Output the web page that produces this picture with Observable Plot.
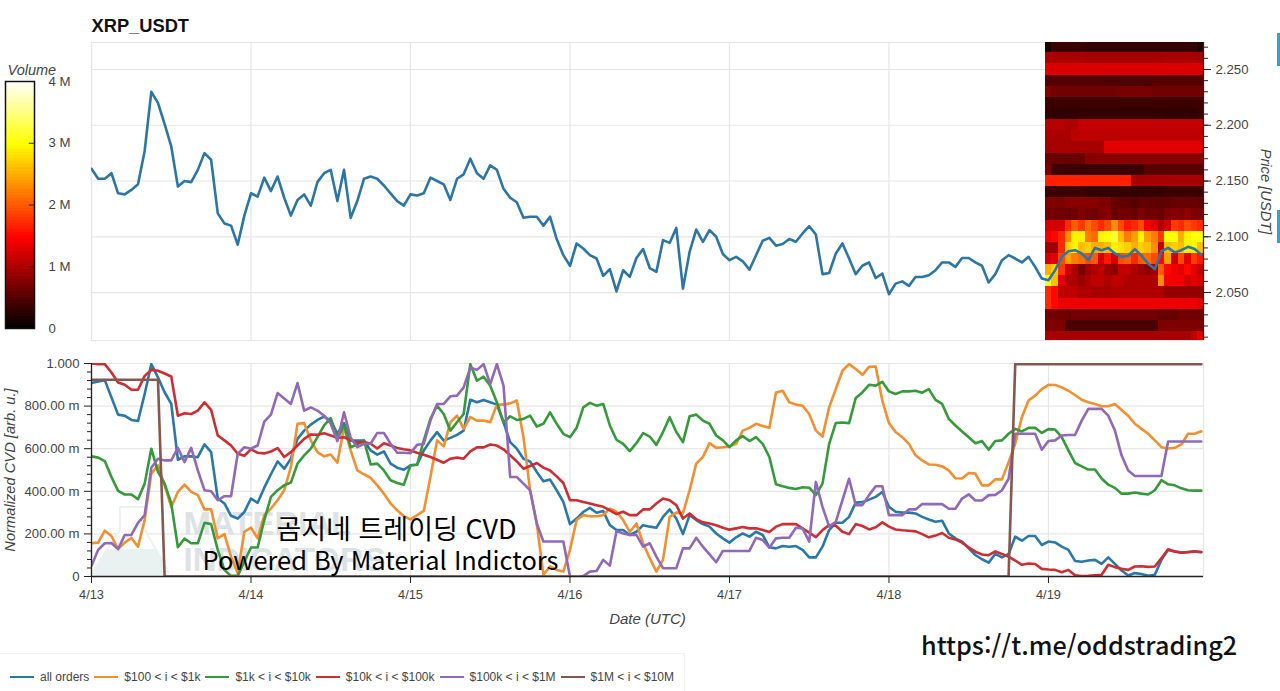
<!DOCTYPE html>
<html lang="ko">
<head>
<meta charset="utf-8">
<script src="https://cdn.jsdelivr.net/npm/d3@7"></script>
<script src="https://cdn.jsdelivr.net/npm/@observablehq/plot@0.6"></script>
<style>
html,body{margin:0;padding:0;background:#fff;width:1280px;height:691px;overflow:hidden}
#page{position:relative;width:1280px;height:691px;font-family:"Liberation Sans",sans-serif}
#page svg{position:absolute;overflow:visible;background:transparent}
#legend{position:absolute;left:0;top:653px;width:685px;height:38px;box-sizing:border-box;border-top:1px solid #f0f0f0;border-right:1px solid #f0f0f0;display:flex;align-items:center;padding-left:10px;padding-top:8px;font-size:12px;color:#444;white-space:nowrap}
#legend i{display:inline-block;width:24px;height:0;border-top:2.5px solid;margin-right:6px}
#legend span{margin-right:5px}
#url{position:absolute;left:921px;top:626px;font:500 25.2px "Noto Sans CJK KR",sans-serif;color:#111;white-space:nowrap}
.edge{position:absolute;left:1277px;width:3px;background:#2fa3d1}
</style>
</head>
<body>
<div id="page"></div>
<script>
const chartTitle = "XRP_USDT";
const dayHours = [0, 24, 48, 72, 96, 120, 144];
const dayLabels = ["4/13", "4/14", "4/15", "4/16", "4/17", "4/18", "4/19"];
const priceTicks = [2.05, 2.10, 2.15, 2.20, 2.25];
const cvdTicks = [0, 200, 400, 600, 800, 1000];
const cvdTickLabels = ["0", "200.00 m", "400.00 m", "600.00 m", "800.00 m", "1.000"];
const volumeTicks = [0, 1, 2, 3, 4];
const volumeLabels = ["0", "1 M", "2 M", "3 M", "4 M"];

// hourly close, from 4/13 00:00 UTC
const price = [
2.161,2.152,2.152,2.157,2.139,2.138,2.142,2.147,2.177,2.230,2.220,2.201,2.181,2.145,2.150,2.149,2.160,2.175,2.169,2.121,2.112,2.110,2.093,2.119,
2.139,2.136,2.153,2.141,2.154,2.135,2.119,2.133,2.138,2.128,2.149,2.157,2.160,2.132,2.160,2.117,2.132,2.152,2.154,2.152,2.146,2.139,2.132,2.128,
2.138,2.137,2.139,2.153,2.150,2.147,2.133,2.152,2.156,2.170,2.157,2.152,2.164,2.160,2.143,2.135,2.131,2.117,2.118,2.118,2.110,2.118,2.098,2.0835,
2.074,2.094,2.0895,2.0835,2.0805,2.065,2.071,2.051,2.070,2.064,2.081,2.089,2.072,2.0685,2.097,2.0945,2.108,2.0535,2.0865,2.1065,2.0955,2.106,2.100,2.0845,
2.079,2.082,2.078,2.0705,2.0835,2.0965,2.099,2.092,2.0935,2.098,2.0955,2.103,2.1095,2.102,2.0665,2.0675,2.085,2.094,2.0805,2.0665,2.074,2.077,2.063,2.067,
2.0485,2.058,2.060,2.056,2.064,2.064,2.0655,2.070,2.077,2.077,2.073,2.081,2.081,2.077,2.074,2.059,2.0665,2.079,2.0835,2.0805,2.077,2.082,2.073,2.0625,
2.061,2.070,2.082,2.087,2.088,2.085,2.079,2.090,2.088,2.090,2.085,2.082,2.083,2.089,2.083,2.076,2.071,2.087,2.090,2.086,2.088,2.091,2.089,2.084];

const seriesNames = ["all orders", "$100 < i < $1k", "$1k < i < $10k", "$10k < i < $100k", "$100k < i < $1M", "$1M < i < $10M"];
const seriesColors = ["#2a78a8", "#f28f30", "#359a39", "#cc2e33", "#9169b8", "#85584f"];

const allOrders = [
908,916,922,841,760,755,735,730,857,997,935,865,810,548,564,564,560,620,584,366,343,285,272,303,
366,346,417,480,540,506,553,646,685,713,735,751,732,670,720,638,638,638,592,572,587,530,511,501,
522,525,592,638,678,638,651,665,685,830,818,829,818,807,724,631,600,553,540,491,447,455,405,350,
246,272,303,322,299,307,241,218,218,195,210,241,234,229,280,315,272,199,288,265,246,234,202,179,
159,184,202,187,210,195,137,132,143,140,143,125,90,90,140,218,252,252,280,347,349,361,374,397,
327,304,300,300,296,280,268,257,262,202,179,164,132,101,81,65,106,90,106,187,168,190,190,148,
164,160,140,125,73,69,75,78,59,90,59,28,5,16,12,3,8,78,125,117,112,115,118,114];
const from100 = [
156,159,215,190,129,159,181,140,265,483,522,428,327,397,431,397,382,315,315,179,199,93,16,210,
229,179,288,319,358,405,514,717,720,639,584,564,573,534,701,592,498,480,463,428,389,343,311,283,
268,288,308,467,639,611,724,755,693,748,732,732,724,807,807,813,826,654,405,249,8,47,31,23,
125,265,288,283,283,288,319,304,265,210,249,156,86,23,78,280,300,296,405,530,561,626,604,607,
611,623,685,698,717,707,698,864,872,818,807,802,763,685,657,794,880,966,997,974,947,984,986,826,
720,678,654,623,569,545,526,525,517,498,461,460,486,483,428,428,456,456,537,623,748,826,849,880,
900,899,888,872,852,830,818,810,799,799,810,782,755,717,693,670,639,607,601,604,620,670,670,682];
const from1k = [
564,558,542,467,402,385,385,363,436,600,491,436,343,137,178,156,156,252,246,125,31,3,3,70,
136,136,265,374,405,428,441,530,569,600,654,709,743,646,709,607,620,639,526,530,498,452,439,431,
522,525,639,740,802,763,685,724,763,997,919,938,896,818,724,752,735,740,755,704,717,771,717,670,
654,698,794,815,802,810,709,642,623,589,626,673,657,618,678,748,678,631,752,760,732,717,662,639,
607,639,659,636,654,623,561,433,424,416,411,419,417,382,436,623,721,723,720,838,864,900,896,914,
869,857,869,869,872,863,880,829,810,740,709,681,654,626,636,595,636,639,670,693,681,698,698,674,
692,690,654,592,533,517,502,502,460,431,416,389,389,394,389,385,405,452,433,428,414,405,403,403];
const from10k = [
1000,997,997,958,911,900,877,877,942,970,966,953,939,755,766,763,779,818,782,662,639,615,576,567,
597,581,578,587,603,561,584,615,646,667,665,673,662,651,654,639,628,631,623,601,626,615,603,597,
592,581,572,561,548,534,553,558,553,587,606,606,620,615,597,569,540,506,519,533,511,498,470,439,
358,358,350,343,335,327,311,293,304,288,288,315,315,343,366,358,335,272,296,269,254,249,241,229,
220,226,232,226,226,218,209,234,246,246,246,226,206,185,218,241,238,210,199,246,237,221,231,254,
234,221,217,215,212,199,184,192,204,182,174,159,137,117,103,100,118,106,93,75,55,61,59,36,
33,31,20,31,6,2,3,6,8,55,44,36,31,47,48,45,47,86,128,117,112,114,117,115];
const from100k = [
50,125,156,157,129,195,195,252,288,511,553,545,545,604,537,604,498,405,400,358,377,377,576,607,
600,615,727,760,861,836,810,908,779,794,779,755,717,636,771,651,607,623,623,674,674,623,581,581,
579,618,623,732,810,810,846,849,888,981,970,997,903,997,896,467,467,436,405,249,164,164,164,164,
0,-20,2,23,26,78,51,213,202,195,195,140,156,93,39,39,39,132,132,182,140,104,67,120,
120,120,120,120,182,171,135,179,182,182,229,226,164,444,327,234,257,358,459,335,335,382,424,424,
288,288,288,315,315,340,340,340,340,318,318,366,386,357,357,382,383,405,459,670,670,670,670,595,
636,639,662,664,664,732,787,787,787,755,685,569,498,472,472,472,472,472,634,634,634,634,634,634];
const largeHours = [0, 10, 11, 138, 139, 167];
const from1M = [924, 924, 0, 0, 997, 997];

// order-book volume by price level (millions), one row per level, one column per hour of 4/19
const heatPrices = [2.27,2.26,2.25,2.24,2.23,2.22,2.21,2.20,2.19,2.18,2.17,2.16,2.15,2.14,2.13,2.12,2.11,2.10,2.09,2.08,2.07,2.06,2.05,2.04,2.03,2.02,2.01];
const heatRows = [
[.15,.35,.35,.35,.35,.35,.3,.3,.3,.3,.3,.3,.3,.3,.3,.3,.3,.3,.3,.3,.3,.3,.3,.2],
[.98,.98,.98,.98,.98,.98,.95,.95,.95,.95,.95,.95,.95,.95,.95,.95,.95,.95,.98,.98,.98,.98,.98,.95],
[1.25,1.25,1.25,1.25,1.25,1.25,1.25,1.25,1.25,1.25,1.25,1.25,1.25,1.25,1.25,1.25,1.25,1.25,1.25,1.25,1.25,1.25,1.25,1.25],
[.48,.48,.48,.48,.48,.48,.48,.48,.48,.45,.45,.45,.45,.45,.45,.45,.5,.5,.5,.5,.5,.5,.5,.5],
[.75,.65,.65,.65,.65,.65,.65,.65,.65,.65,.65,.7,.7,.7,.7,.7,.65,.65,.65,.65,.65,.65,.65,.65],
[.35,.35,.35,.35,.35,.35,.35,.35,.35,.35,.35,.35,.35,.35,.35,.35,.35,.35,.35,.35,.35,.35,.35,.35],
[.28,.28,.28,.28,.28,.3,.3,.3,.3,.3,.3,.3,.3,.3,.3,.3,.3,.3,.28,.28,.28,.28,.28,.33],
[1.05,1.05,1.05,1.0,1.0,1.12,1.12,1.12,1.12,1.12,1.12,1.12,1.12,1.12,1.12,1.12,1.12,1.12,1.12,1.12,1.12,1.12,1.12,1.12],
[.98,.98,.98,.98,1.08,1.08,1.08,1.08,1.08,1.08,1.08,1.08,1.08,1.08,1.08,1.08,1.08,1.08,1.08,1.08,1.08,1.08,1.08,1.08],
[.95,.95,.95,.95,.95,.95,.95,.95,.95,1.3,1.3,1.3,1.3,1.3,1.3,1.3,1.3,1.3,1.3,1.3,1.3,1.3,1.3,1.3],
[.6,.6,.6,.6,.6,.6,.78,.78,.78,.78,.78,.78,.78,.78,.78,.78,.78,.78,.78,.78,.78,.78,.78,.78],
[.7,.35,.35,.35,.35,.35,.35,.35,.35,.35,.35,.35,.35,.35,.35,.52,.52,.52,.52,.52,.52,.52,.52,.52],
[1.65,1.65,1.65,1.65,1.65,1.65,1.65,1.65,1.65,1.65,1.65,1.65,1.65,.95,.95,.95,.95,.95,.95,.95,.95,.95,.95,.95],
[.35,.35,.35,.35,.35,.35,.3,.3,.3,.3,.3,.3,.3,.3,.3,.3,.3,.3,.35,.35,.35,.35,.35,.35],
[.72,.72,.72,.78,.78,.78,.78,.78,.72,.72,.6,.55,.55,.5,.55,.55,.55,.55,.55,.6,.6,.6,.6,.55],
[.65,.65,.65,.6,.65,.72,.65,.65,.72,.78,.6,.65,.65,.6,.72,.65,.65,.6,.72,.78,.72,.82,.72,.72],
[1.2,1.2,1.2,1.7,2.0,1.8,2.1,1.9,1.7,1.9,2.3,1.9,1.6,1.7,1.9,1.4,1.3,1.0,1.2,1.8,1.7,1.9,1.8,1.7],
[1.4,1.5,1.7,2.3,2.9,2.9,2.2,2.1,2.9,3.0,3.2,2.6,2.2,2.4,2.9,2.4,2.2,1.8,3.0,3.0,2.5,2.9,3.0,3.0],
[.9,.9,1.7,2.7,2.9,2.6,2.7,2.5,2.5,2.6,2.9,2.8,2.7,2.5,2.7,2.6,2.3,1.1,2.6,2.7,2.6,2.9,2.9,2.6],
[1.2,1.3,1.9,2.4,2.2,2.1,1.9,2.0,1.2,1.6,1.2,1.9,2.0,1.7,2.0,2.1,1.9,1.5,2.4,1.2,1.9,1.3,1.8,1.6],
[2.5,2.7,1.8,1.2,1.0,.7,.9,1.0,1.1,.9,.8,1.1,1.1,1.0,.9,.8,.9,2.0,1.5,1.4,1.3,1.5,1.3,1.1],
[3.1,2.6,1.3,1.0,1.0,.9,1.0,1.1,1.1,1.0,1.1,1.1,1.0,1.0,1.0,1.0,1.0,2.3,1.4,1.4,1.4,1.2,1.3,1.2],
[1.7,1.5,1.1,1.1,1.1,1.0,1.0,.95,.95,.95,1.0,1.0,1.0,1.0,1.0,1.0,1.0,1.0,.85,.85,.85,.85,.85,.85],
[1.7,1.5,1.35,1.35,1.35,1.35,1.35,1.35,1.35,1.35,1.35,1.35,1.35,1.35,1.35,1.35,1.35,1.35,1.35,1.35,1.35,1.35,1.35,1.3],
[.65,.65,.65,.6,.65,.65,.65,.65,.65,.65,.65,.65,.65,.65,.65,.65,.65,.6,.6,.6,.65,.65,.65,.65],
[.72,.72,.72,.42,.42,.42,.42,.42,.42,.42,.42,.42,.42,.42,.42,.42,.42,.72,.72,.72,.72,.72,.72,.72],
[.95,.95,.95,.95,.95,.95,.95,.95,.95,.95,.95,.95,.95,.95,.95,.95,.95,.95,.95,.95,.95,.95,1.1,1.3]
];

const xMax = 167.33;
const heatStart = 143.5;
const hotScale = {type: "linear", domain: [0, 1.46, 2.98, 4], range: ["#000000", "#ff0000", "#ffff00", "#ffffff"], interpolate: "rgb"};
const gridColor = "#e6e6e6";
const font = "Liberation Sans";
const lineWidth = 2.6;
const page = document.getElementById("page");

const hourly = (values, i) => values.map((v, h) => ({h, v, series: seriesNames[i]}));
const cvdData = [allOrders, from100, from1k, from10k, from100k].map(hourly)
  .concat([largeHours.map((h, k) => ({h, v: from1M[k], series: seriesNames[5]}))]);

const heatCells = heatPrices.flatMap((p, r) => heatRows[r].map((v, c) => ({p, c, v})));
const priceData = price.map((v, h) => ({h, v}));
const minorPrice = heatPrices;
const minorCvd = [40,80,120,160,240,280,320,360,440,480,520,560,640,680,720,760,840,880,920,960];

// --- price panel with depth heat map
const upper = Plot.plot({
  width: 1280, height: 350, marginLeft: 91, marginRight: 77, marginTop: 42, marginBottom: 10,
  style: {fontFamily: font, background: "transparent"},
  x: {domain: [0, xMax], axis: null},
  y: {domain: [2.007, 2.2742], axis: null},
  color: hotScale,
  marks: [
    Plot.ruleX(dayHours, {stroke: gridColor, strokeWidth: 1.2}),
    Plot.ruleY(priceTicks, {stroke: gridColor, strokeWidth: 1.2}),
    Plot.frame({stroke: gridColor, strokeWidth: 1.2}),
    Plot.rect(heatCells, {
      x1: d => heatStart + d.c, x2: d => heatStart + d.c + 1,
      y1: d => d.p - 0.005, y2: d => d.p + 0.005,
      fill: "v", clip: true, shapeRendering: "crispEdges"
    }),
    Plot.line(priceData, {x: "h", y: "v", stroke: "#2b76a4", strokeWidth: lineWidth, clip: true}),
    Plot.ruleX([xMax], {stroke: "#222", strokeWidth: 1.2}),
    Plot.axisY(minorPrice, {anchor: "right", tickSize: 4, tickFormat: () => "", stroke: "#222", label: null}),
    Plot.axisY(priceTicks, {anchor: "right", tickSize: 7, tickPadding: 5, tickFormat: d3.format(".3f"), stroke: "#222", fill: "#444", fontSize: 13.2, label: null}),
    Plot.text(["Price [USDT]"], {frameAnchor: "right", dx: 62, rotate: 90, textAnchor: "middle", fontStyle: "italic", fontSize: 14.7, fill: "#444"}),
    Plot.text([chartTitle], {frameAnchor: "top-left", dy: -16, lineAnchor: "middle", textAnchor: "start", fontWeight: 700, fontSize: 18.3, fill: "#111"})
  ]
});
upper.style.left = "0px"; upper.style.top = "0px";
page.appendChild(upper);

// --- colour bar
const barLevels = d3.range(0, 4, 0.05);
const bar = Plot.plot({
  width: 91, height: 340, marginLeft: 5, marginRight: 57, marginTop: 81, marginBottom: 12,
  style: {fontFamily: font, background: "transparent"},
  x: {domain: [0, 1], axis: null},
  y: {domain: [0, 4], axis: null},
  color: hotScale,
  marks: [
    Plot.rect(barLevels, {x1: () => 0, x2: () => 1, y1: d => d, y2: d => d + 0.05, fill: d => d + 0.025, shapeRendering: "crispEdges"}),
    Plot.frame({stroke: "#111", strokeWidth: 1.5}),
    Plot.ruleY([1, 2, 3], {x1: () => 0.82, x2: () => 1, stroke: "#222"}),
    Plot.text(volumeTicks, {y: d => d, text: (d, i) => volumeLabels[i], frameAnchor: "right", dx: 14, textAnchor: "start", fontSize: 13.2, fill: "#444"}),
    Plot.text(["Volume"], {frameAnchor: "top-left", dx: 2, dy: -11, lineAnchor: "middle", textAnchor: "start", fontStyle: "italic", fontSize: 14.5, fill: "#444"})
  ]
});
bar.style.left = "0px"; bar.style.top = "0px";
page.appendChild(bar);

// --- watermark flask, drawn behind the lines
const flask = () => {
  const g = d3.create("svg:g");
  g.append("path").attr("d", "M120 157 L145 157 L145 180 L168 221 Q170 226 160 226 L100 226 Q90 226 95 218 L120 180 Z")
    .attr("fill", "#fdfdfd").attr("stroke", "#eef1f1").attr("stroke-width", 2);
  g.append("path").attr("d", "M108 199 L157 199 L168 221 Q170 226 160 226 L100 226 Q90 226 95 218 Z")
    .attr("fill", "#e9f1f1");
  return g.node();
};

const wordmark = {frameAnchor: "top-left", dx: 92, lineAnchor: "middle", textAnchor: "start", fontFamily: "Liberation Sans Narrow, Liberation Sans", fontWeight: 700, fontSize: 33, fill: "#dde2e4"};

// --- CVD panel
const lower = Plot.plot({
  width: 1280, height: 290, marginLeft: 91, marginRight: 77, marginTop: 13, marginBottom: 64,
  style: {fontFamily: font, background: "transparent"},
  x: {domain: [0, xMax], axis: null},
  y: {domain: [0, 1000], axis: null},
  marks: [
    Plot.ruleX(dayHours, {stroke: gridColor, strokeWidth: 1.2}),
    Plot.ruleY(cvdTicks, {stroke: gridColor, strokeWidth: 1.2}),
    Plot.frame({stroke: gridColor, strokeWidth: 1.2}),
    flask,
    Plot.text(["MATERIAL"], {...wordmark, dy: 161}),
    Plot.text(["INDICATORS"], {...wordmark, dy: 197}),
    ...cvdData.map((rows, i) => Plot.line(rows, {x: "h", y: "v", stroke: seriesColors[i], strokeWidth: lineWidth, clip: true})),
    Plot.ruleY([0], {stroke: "#222", strokeWidth: 1.3}),
    Plot.ruleX([0], {stroke: "#222", strokeWidth: 1.3}),
    Plot.axisY(minorCvd, {anchor: "left", tickSize: 4, tickFormat: () => "", stroke: "#222", label: null}),
    Plot.axisY(cvdTicks, {anchor: "left", tickSize: 7, tickPadding: 5, tickFormat: (d, i) => cvdTickLabels[i], stroke: "#222", fill: "#444", fontSize: 13.2, label: null}),
    Plot.axisX(dayHours, {anchor: "bottom", tickSize: 7, tickPadding: 6, tickFormat: (d, i) => dayLabels[i], stroke: "#222", fill: "#444", fontSize: 12.8, label: null}),
    Plot.text(["Date (UTC)"], {frameAnchor: "bottom", dy: 43, lineAnchor: "middle", fontStyle: "italic", fontSize: 15, fill: "#444"}),
    Plot.text(["Normalized CVD [arb. u.]"], {frameAnchor: "left", dx: -81, rotate: -90, textAnchor: "middle", fontStyle: "italic", fontSize: 14.7, fill: "#444"}),
    Plot.text(["곰지네 트레이딩 CVD"], {frameAnchor: "top-left", dx: 305, dy: 167, lineAnchor: "middle", textAnchor: "middle", fontFamily: "Noto Sans CJK KR", fontSize: 27, fill: "#000"}),
    Plot.text(["Powered By Material Indictors"], {frameAnchor: "top-left", dx: 289, dy: 198, lineAnchor: "middle", textAnchor: "middle", fontFamily: "Noto Sans CJK KR", fontSize: 25.4, fill: "#000"})
  ]
});
lower.style.left = "0px"; lower.style.top = "350px";
page.appendChild(lower);

// --- legend, link and edge marks
const legend = document.createElement("div");
legend.id = "legend";
seriesNames.forEach((name, i) => {
  const swatch = document.createElement("i");
  swatch.style.borderTopColor = seriesColors[i];
  const label = document.createElement("span");
  label.textContent = name;
  legend.append(swatch, label);
});
page.appendChild(legend);

const linkText = document.createElement("div");
linkText.id = "url";
linkText.textContent = "https://t.me/oddstrading2";
page.appendChild(linkText);

[[33, 33], [210, 33]].forEach(([t, h]) => {
  const e = document.createElement("div");
  e.className = "edge";
  e.style.top = t + "px";
  e.style.height = h + "px";
  page.appendChild(e);
});
</script>
</body>
</html>
